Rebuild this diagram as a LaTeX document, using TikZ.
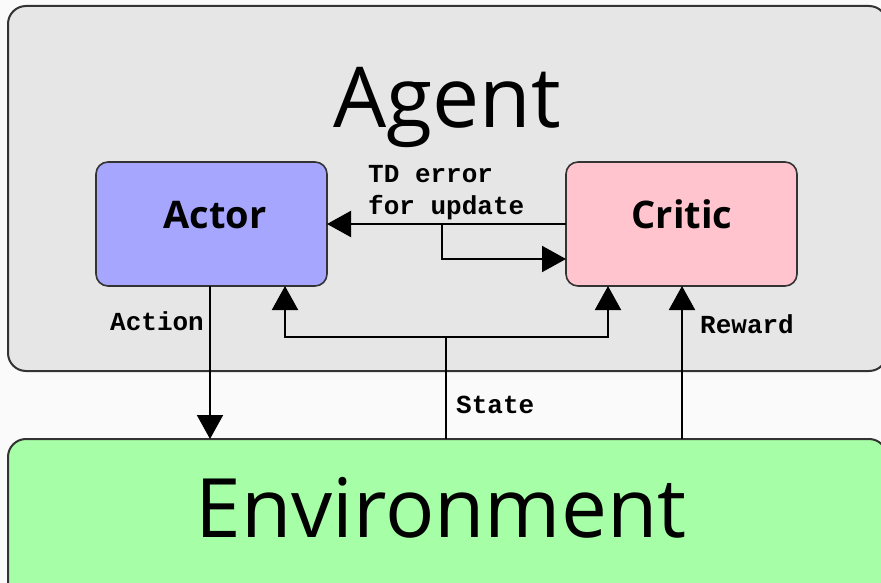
\documentclass[tikz,border=0pt]{standalone}
\usepackage{fontspec}
\usepackage{pdfrender}
\usetikzlibrary{arrows.meta}
\newfontfamily\titleface{Open Sans}
\newfontfamily\headfont{Open Sans}
\newfontfamily\codefont{Liberation Mono}
\newcommand{\heavytext}[1]{\textpdfrender{TextRenderingMode=FillStroke,LineWidth=1.3pt,LineJoin=1}{#1}}
\definecolor{bgcol}{HTML}{FAFAFA}
\definecolor{agentcol}{HTML}{E6E6E6}
\definecolor{envcol}{HTML}{A6FFA6}
\definecolor{actorcol}{HTML}{A6A6FF}
\definecolor{criticcol}{HTML}{FFC4CE}
\definecolor{edgecol}{HTML}{333333}
\begin{document}
\begin{tikzpicture}[x=1pt,y=-1pt,
  bigbox/.style={draw=edgecol, line width=2pt, rounded corners=18pt, rectangle, inner sep=0pt, outer sep=0pt},
  rolebox/.style={draw=edgecol, line width=1.6pt, rounded corners=12pt, rectangle, inner sep=0pt, outer sep=0pt,
    minimum width=231pt, minimum height=124pt},
  title/.style={font=\titleface\fontsize{84}{90}\selectfont, anchor=base, inner sep=0pt},
  rolelabel/.style={font=\headfont\bfseries\fontsize{38}{44}\selectfont, anchor=base, inner sep=0pt},
  edgelabel/.style={font=\codefont\bfseries\fontsize{26}{32}\selectfont, anchor=base west, inner sep=0pt, align=left},
  arr/.style={-{Triangle[length=24pt,width=26pt]}, line width=2pt, black},
  plain/.style={line width=2pt, black}
]
\fill[bgcol] (0,0) rectangle (881,583);
\useasboundingbox (0,0) rectangle (881,583);

% containers
\node[bigbox, fill=agentcol, minimum width=879pt, minimum height=365pt] (agent) at (447.5,188.5) {};
\node[bigbox, fill=envcol, minimum width=879pt, minimum height=161pt] (env) at (447.5,519.5) {};
\node[title] (agenttext) at (447,128) {\heavytext{Agent}};
\node[title, font=\titleface\fontsize{82}{90}\selectfont] (envtext) at (441,537) {\heavytext{Environment}};

% actor and critic
\node[rolebox, fill=actorcol] (actor) at (211.5,224) {};
\node[rolebox, fill=criticcol] (critic) at (681.5,224) {};
\node[rolelabel] (actortext) at (215,228) {Actor};
\node[rolelabel] (critictext) at (682,228) {Critic};

% coordinates
\coordinate (tdsplit) at (442,224);
\coordinate (tdturn) at (442,259);
\coordinate (actionx) at (210,0);
\coordinate (statejoin) at (446,337);
\coordinate (stateA) at (285,337);
\coordinate (stateC) at (608,337);
\coordinate (rewardx) at (682,0);

% TD error
\draw[arr] (critic.west) -- (actor.east);
\draw[arr] (tdsplit) -- (tdturn) -- (critic.west |- tdturn);
\node[edgelabel] (tdtext) at (368,214) {TD error\\for update};

% Action
\draw[arr] (actor.south -| actionx) -- (env.north -| actionx);
\node[edgelabel] (actiontext) at (110,330) {Action};

% State
\draw[plain] (env.north -| statejoin) -- (statejoin);
\draw[arr] (statejoin) -- (stateA) -- (actor.south -| stateA);
\draw[arr] (statejoin) -- (stateC) -- (critic.south -| stateC);
\node[edgelabel] (statetext) at (456,413) {State};

% Reward
\draw[arr] (env.north -| rewardx) -- (critic.south -| rewardx);
\node[edgelabel] (rewardtext) at (700,333) {Reward};
\end{tikzpicture}
\end{document}
